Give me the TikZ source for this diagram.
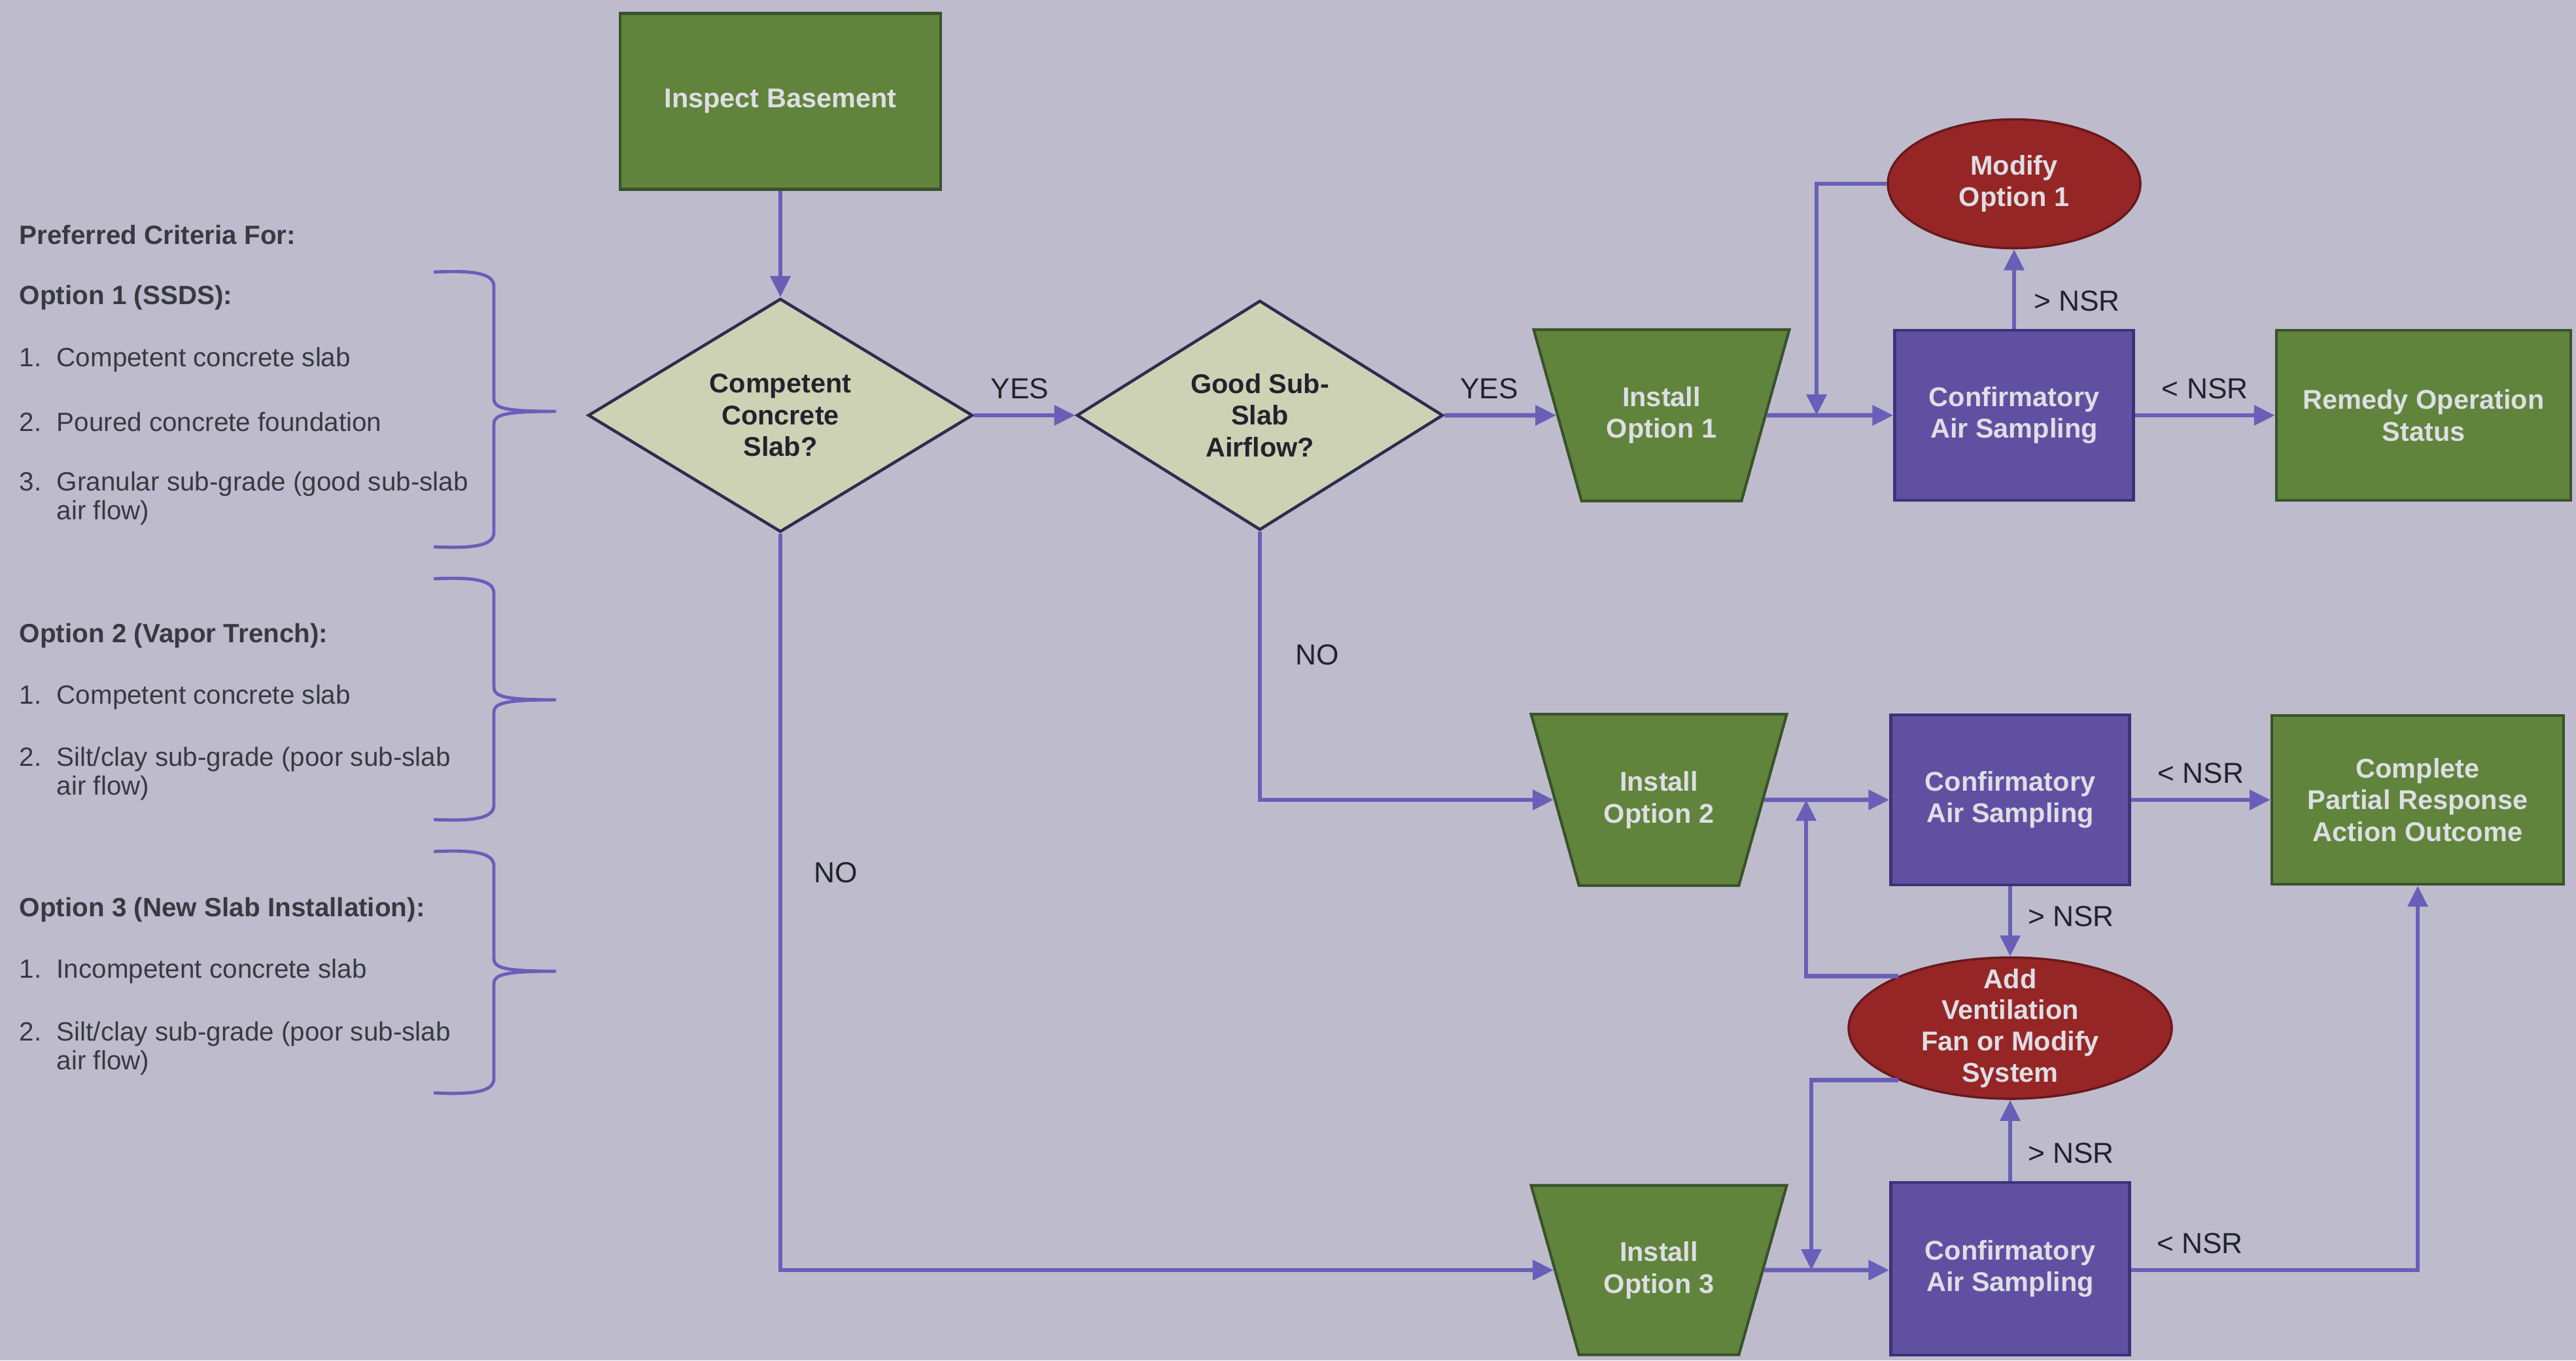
\documentclass[tikz,border=0pt]{standalone}
\usepackage{fontspec}
\setmainfont{Liberation Sans}
\usetikzlibrary{arrows.meta, positioning, shapes.geometric}

\definecolor{pagebg}{RGB}{190,188,204}
\definecolor{boxgreen}{RGB}{96,132,60}
\definecolor{greenedge}{RGB}{58,82,42}
\definecolor{boxpurple}{RGB}{96,80,162}
\definecolor{purpleedge}{RGB}{60,50,122}
\definecolor{ellred}{RGB}{150,38,38}
\definecolor{rededge}{RGB}{105,25,30}
\definecolor{dmdfill}{RGB}{205,210,180}
\definecolor{dmdedge}{RGB}{45,45,80}
\definecolor{linkblue}{RGB}{105,95,185}
\definecolor{lighttext}{RGB}{222,222,228}
\definecolor{darktext}{RGB}{35,35,45}

\begin{document}
\begin{tikzpicture}[
		>={Triangle[width=0.3cm,length=0.32cm]},
		gbox/.style={rectangle, draw=greenedge, line width=1.3pt, fill=boxgreen, text=lighttext, font=\fontsize{11.8}{13.8}\selectfont\bfseries, align=center, minimum height=2.6cm, inner sep=2pt},
		pbox/.style={gbox, draw=purpleedge, fill=boxpurple, minimum width=3.65cm},
		inst/.style={trapezium, trapezium stretches=true, trapezium angle=60, shape border rotate=180, minimum width=3.93cm, minimum height=2.62cm, draw=greenedge, line width=1.2pt, fill=boxgreen, text=lighttext, font=\fontsize{11.8}{13.8}\selectfont\bfseries, align=center, inner sep=0pt},
		dmd/.style={diamond, draw=dmdedge, line width=1.3pt, fill=dmdfill, text=darktext, font=\fontsize{11.8}{13.8}\selectfont\bfseries, align=center, inner sep=0pt},
		ell/.style={ellipse, draw=rededge, line width=1pt, fill=ellred, text=lighttext, font=\fontsize{11.8}{13.6}\selectfont\bfseries, align=center, inner sep=0pt},
		flow/.style={->, line width=1.9pt, draw=linkblue},
		tag/.style={font=\fontsize{12.6}{14}\selectfont, text=darktext},
		crit/.style={font=\fontsize{11.5}{12.4}\selectfont, text=darktext!90, anchor=west, align=left, inner sep=0pt},
		crithead/.style={crit, font=\fontsize{11.5}{12.4}\selectfont\bfseries},
		brc/.style={line width=1.4pt, draw=linkblue}
	]
		\useasboundingbox (0,0) rectangle (39.38,-20.80);
		\fill[pagebg] (0,0) rectangle (39.38,-20.80);

		% Criteria list
		\node[crithead] (crit) at (0.29,-3.59) {Preferred Criteria For:};
		\node[crithead] (opt1) at (0.29,-4.55) {Option 1 (SSDS):};
		\node[crit] (o1a) at (0.29,-5.50) {\makebox[0.57cm][l]{1.}Competent concrete slab};
		\node[crit] (o1b) at (0.29,-6.45) {\makebox[0.57cm][l]{2.}Poured concrete foundation};
		\node[crit] (o1c) at (0.29,-7.62) {\makebox[0.57cm][l]{3.}Granular sub-grade (good sub-slab\\\hspace*{0.57cm}air flow)};
		\node[crithead] (opt2) at (0.29,-9.72) {Option 2 (Vapor Trench):};
		\node[crit] (o2a) at (0.29,-10.66) {\makebox[0.57cm][l]{1.}Competent concrete slab};
		\node[crit] (o2b) at (0.29,-11.83) {\makebox[0.57cm][l]{2.}Silt/clay sub-grade (poor sub-slab\\\hspace*{0.57cm}air flow)};
		\node[crithead] (opt3) at (0.29,-13.91) {Option 3 (New Slab Installation):};
		\node[crit] (o3a) at (0.29,-14.85) {\makebox[0.57cm][l]{1.}Incompetent concrete slab};
		\node[crit] (o3b) at (0.29,-16.03) {\makebox[0.57cm][l]{2.}Silt/clay sub-grade (poor sub-slab\\\hspace*{0.57cm}air flow)};

		% Braces
		\draw[brc] (6.63,-4.16) .. controls (7.25,-4.13) and (7.55,-4.18) .. (7.55,-4.38) -- (7.55,-6.09) .. controls (7.55,-6.24) and (7.70,-6.29) .. (8.50,-6.29) .. controls (7.70,-6.29) and (7.55,-6.34) .. (7.55,-6.49) -- (7.55,-8.14) .. controls (7.55,-8.34) and (7.25,-8.39) .. (6.63,-8.36);
		\draw[brc] (6.63,-8.85) .. controls (7.25,-8.82) and (7.55,-8.87) .. (7.55,-9.07) -- (7.55,-10.50) .. controls (7.55,-10.65) and (7.70,-10.70) .. (8.50,-10.70) .. controls (7.70,-10.70) and (7.55,-10.75) .. (7.55,-10.90) -- (7.55,-12.31) .. controls (7.55,-12.51) and (7.25,-12.56) .. (6.63,-12.53);
		\draw[brc] (6.63,-13.02) .. controls (7.25,-12.99) and (7.55,-13.04) .. (7.55,-13.24) -- (7.55,-14.65) .. controls (7.55,-14.80) and (7.70,-14.85) .. (8.50,-14.85) .. controls (7.70,-14.85) and (7.55,-14.90) .. (7.55,-15.05) -- (7.55,-16.49) .. controls (7.55,-16.69) and (7.25,-16.74) .. (6.63,-16.71);

		% Decisions
		\node[gbox, minimum width=4.9cm, minimum height=2.69cm] (insp) at (11.93,-1.55) {Inspect Basement};
		\node[dmd, minimum width=5.88cm, minimum height=3.57cm] (slabq) at (11.93,-6.35) {Competent\\Concrete\\Slab?};
		\node[dmd, minimum width=5.6cm, minimum height=3.51cm] (airq) at (19.26,-6.35) {Good Sub-\\Slab\\Airflow?};

		% Option 1 row
		\node[inst] (inst1) at (25.40,-6.35) {Install\\Option 1};
		\node[pbox] (samp1) at (30.79,-6.35) {Confirmatory\\Air Sampling};
		\node[gbox, minimum width=4.5cm] (remedy) at (37.05,-6.35) {Remedy Operation\\Status};
		\node[ell, minimum width=3.86cm, minimum height=1.97cm] (modopt) at (30.79,-2.81) {Modify\\Option 1};

		% Option 2 and 3 rows
		\node[inst] (inst2) at (25.36,-12.23) {Install\\Option 2};
		\node[pbox] (samp2) at (30.73,-12.23) {Confirmatory\\Air Sampling};
		\node[gbox, minimum width=4.46cm, minimum height=2.58cm] (partial) at (36.96,-12.23) {Complete\\Partial Response\\Action Outcome};
		\node[ell, minimum width=4.94cm, minimum height=2.16cm, inner ysep=-0.25cm] (addfan) at (30.73,-15.72) {Add\\Ventilation\\Fan or Modify\\System};
		\node[inst, minimum height=2.59cm] (inst3) at (25.36,-19.42) {Install\\Option 3};
		\node[pbox, minimum height=2.64cm] (samp3) at (30.73,-19.40) {Confirmatory\\Air Sampling};

		\coordinate (join1) at (27.77,-6.35);
		\coordinate (join2) at (27.61,-12.23);
		\coordinate (join3) at (27.69,-19.42);

		% Connectors
		\draw[flow] (insp) -- (slabq);
		\draw[flow] (slabq) -- node[tag, above=1mm, pos=.45] {YES} (airq);
		\draw[flow] (airq) -- node[tag, above=1mm, pos=.4] {YES} (inst1);
		\draw[flow] (inst1) -- (samp1);
		\draw[flow] (samp1) -- node[tag, above=1mm] {< NSR} (remedy);
		\draw[flow] (samp1) -- node[tag, right=1.5mm, pos=.35] {> NSR} (modopt);
		\draw[flow] (modopt.west) -| (join1);

		\draw[flow] (airq.south) |- node[tag, right=3.9mm, pos=.23] {NO} (inst2);
		\draw[flow] (inst2) -- (samp2);
		\draw[flow] (samp2) -- node[tag, above=1mm] {< NSR} (partial);
		\draw[flow] (samp2) -- node[tag, right=1.2mm, pos=.43] {> NSR} (addfan);
		\draw[flow] (addfan.155) -| (join2);

		\draw[flow] (slabq.south) |- node[tag, right=3.6mm, pos=.23] {NO} (inst3);
		\draw[flow] (inst3) -- (samp3.west |- inst3);
		\draw[flow] (samp3) -- node[tag, right=1.2mm, pos=.34] {> NSR} (addfan);
		\draw[flow] (addfan.205) -| (join3);
		\draw[flow] (samp3.east |- inst3) -| node[tag, above=1mm, pos=.12] {< NSR} (partial);
\end{tikzpicture}
\end{document}
